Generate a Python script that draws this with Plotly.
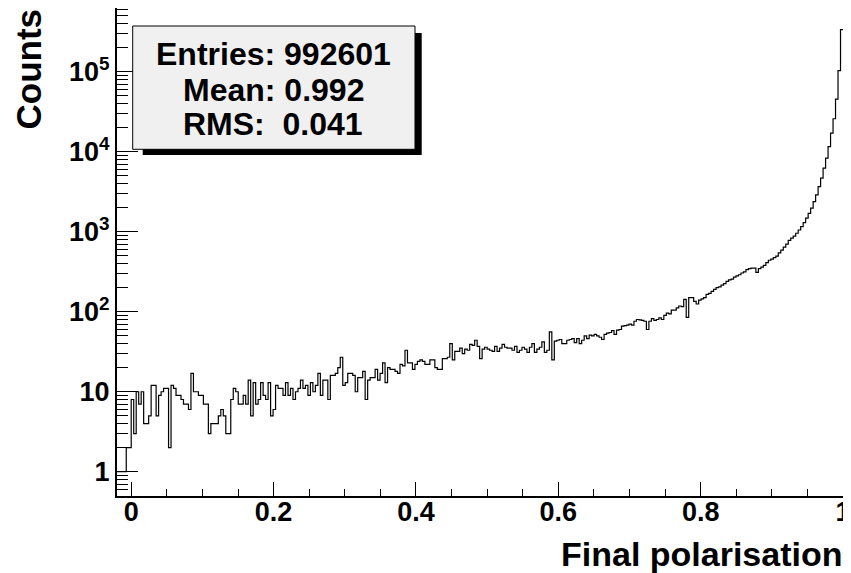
import numpy as np
import plotly.graph_objects as go

# ---------------- data ----------------
bin_lo = -0.021
bin_hi = 1.0
counts = [1, 1, 1, 1, 2, 2,
          8, 3, 10, 7, 10, 4, 4, 5, 12, 12,
          5, 9, 10, 11, 11, 2, 12, 11, 9, 9,
          8, 7, 7, 6, 17, 10, 10, 9, 9, 7,
          7, 3, 4, 4, 4, 5, 6, 5, 3, 3,
          8, 11, 10, 7, 7, 9, 7, 14, 5, 13,
          7, 8, 13, 9, 8, 13, 5, 6, 12, 11,
          11, 9, 13, 9, 11, 8, 10, 11, 14, 11,
          12, 9, 13, 10, 12, 17, 9, 14, 14, 8,
          16, 16, 17, 20, 27, 12, 13, 17, 17, 16,
          10, 15, 15, 18, 8, 14, 15, 15, 19, 14,
          17, 23, 13, 20, 19, 19, 18, 17, 22, 21,
          33, 23, 23, 19, 22, 24, 25, 24, 22, 22,
          25, 25, 20, 19, 19, 26, 26, 27, 40, 25,
          32, 32, 35, 30, 34, 33, 39, 38, 44, 37,
          26, 34, 36, 34, 33, 32, 37, 32, 35, 39,
          36, 35, 35, 33, 37, 31, 33, 36, 34, 31,
          36, 40, 31, 34, 36, 42, 31, 33, 56, 25,
          43, 44, 45, 40, 40, 44, 45, 46, 41, 46,
          40, 44, 50, 46, 51, 50, 52, 50, 48, 45,
          52, 54, 55, 58, 52, 59, 60, 66, 67, 68,
          70, 68, 76, 80, 79, 78, 76, 60, 76, 82,
          78, 80, 84, 80, 90, 96, 94, 105, 105, 112,
          118, 116, 143, 85, 150, 150, 135, 125, 140, 145,
          150, 165, 170, 180, 190, 200, 205, 215, 225, 240,
          250, 255, 270, 280, 290, 305, 315, 335, 345, 350,
          350, 310, 345, 360, 380, 410, 440, 455, 475, 495,
          545, 590, 640, 700, 780, 830, 880, 957, 1050, 1160,
          1300, 1475, 1700, 1970, 2380, 2885, 3670, 4670, 6230, 8300,
          11600, 17100, 25800, 45500, 103000, 336000]

x_tick_vals = [0, 0.2, 0.4, 0.6, 0.8, 1.0]
x_tick_text = ["0", "0.2", "0.4", "0.6", "0.8", "1"]
y_tick_vals = [1, 10, 100, 1000, 10000, 100000]
y_tick_text = ["1", "10", "10<sup>2</sup>", "10<sup>3</sup>", "10<sup>4</sup>", "10<sup>5</sup>"]

stat_entries = 992601
stat_mean = 0.992
stat_rms = 0.041

x_title = "Final polarisation"
y_title = "Counts"

# ---------------- figure ----------------
FONT = "Liberation Sans, Arial, Helvetica, sans-serif"
OFF = 8  # page body margin of the browser

edges = np.linspace(bin_lo, bin_hi, len(counts) + 1)
xs = list(edges[:-1]) + [edges[-1]]
ys = list(counts) + [counts[-1]]

fig = go.Figure(go.Scatter(x=xs, y=ys, mode="lines",
                           line=dict(shape="hv", color="black", width=1.2),
                           hoverinfo="skip"))

y_minor = [m * 10.0 ** e for e in range(-1, 6) for m in range(2, 10)]
y_minor = [v for v in y_minor if 0.49 < v < 6.3e5]

tickfont = dict(family=FONT, size=27, color="black", weight="bold")

fig.update_layout(
    width=851 - OFF, height=573 - OFF,
    margin=dict(l=117 - OFF, r=8, t=8 - OFF, b=77, autoexpand=False),
    paper_bgcolor="white", plot_bgcolor="white",
    showlegend=False,
    xaxis=dict(range=[-0.02, 1.0], tickmode="array", tickvals=x_tick_vals, ticktext=x_tick_text,
               ticks="inside", ticklen=14, tickwidth=1, tickcolor="black",
               showline=True, linecolor="black", linewidth=2, mirror=True,
               showgrid=False, zeroline=False, tickfont=tickfont, ticklabelstandoff=-9,
               automargin=False,
               minor=dict(tick0=0, dtick=0.05, ticks="inside", ticklen=7, tickwidth=1,
                          tickcolor="black", showgrid=False)),
    yaxis=dict(type="log", range=[-0.303, 5.796], tickmode="array", tickvals=y_tick_vals,
               ticktext=y_tick_text, ticks="inside", ticklen=21, tickwidth=1, tickcolor="black",
               showline=True, linecolor="black", linewidth=2, mirror=True,
               showgrid=False, zeroline=False, tickfont=tickfont, automargin=False,
               minor=dict(tickmode="array", tickvals=y_minor, ticks="inside", ticklen=11,
                          tickwidth=1, tickcolor="black", showgrid=False)),
)

PW, PH = 726.0, 488.0
L, B = 117.0, 496.0


def px(xp):
    return (xp - L) / PW


def py(yp):
    return (B - yp) / PH


# stats box shadow + box
fig.add_shape(type="rect", xref="paper", yref="paper", layer="above",
              x0=px(142.7), x1=px(421.7), y0=py(155), y1=py(33),
              fillcolor="black", line=dict(width=0))
fig.add_shape(type="rect", xref="paper", yref="paper", layer="above",
              x0=px(132.7), x1=px(415), y0=py(149.3), y1=py(26),
              fillcolor="#f0f0f0", line=dict(color="black", width=1))

stat_lines = ["Entries: %d" % stat_entries,
              "Mean: %.3f" % stat_mean,
              "RMS:\u00a0 %.3f" % stat_rms]
for txt, yc in zip(stat_lines, [54, 89.5, 124]):
    fig.add_annotation(text=txt, xref="paper", yref="paper", x=px(273), y=py(yc),
                       xanchor="center", yanchor="middle", showarrow=False,
                       font=dict(family=FONT, size=32, color="black", weight="bold"))

fig.add_annotation(text=x_title, xref="paper", yref="paper", x=px(844), y=py(554),
                   xanchor="right", yanchor="middle", showarrow=False,
                   font=dict(family=FONT, size=34, color="black", weight="bold"))
fig.add_annotation(text=y_title, xref="paper", yref="paper", x=px(28), y=py(7),
                   xanchor="center", yanchor="top", textangle=-90, showarrow=False,
                   font=dict(family=FONT, size=35, color="black", weight="bold"))

fig.write_html("out.html")
